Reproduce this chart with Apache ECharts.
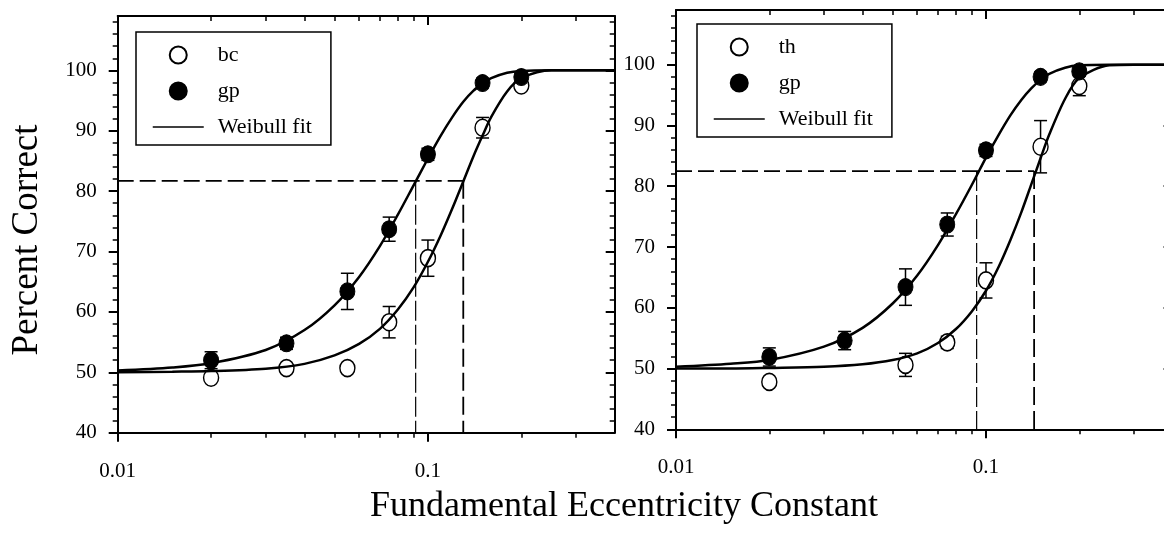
<!DOCTYPE html>
<html>
<head>
<meta charset="utf-8">
<script src="https://cdn.jsdelivr.net/npm/echarts@6/dist/echarts.min.js"></script>
<style>
html, body { margin: 0; background: #fff; }
#chart { width: 1164px; height: 540px; }
</style>
</head>
<body>
<div id="chart"></div>
<script>
// stimulus levels (fundamental eccentricity constant)
var stimX = [0.02, 0.035, 0.055, 0.075, 0.1, 0.15, 0.2];

// left panel: observers bc and gp (percent correct, +/- error)
var bcY    = [49.1, 50.7, 50.7, 58.3, 68.9, 90.5, 97.5];
var bcErr  = [0, 0, 0, 2.6, 3.0, 1.7, 0.8];
var gpLY   = [52.0, 54.8, 63.4, 73.7, 86.1, 97.9, 98.9];
var gpLErr = [1.4, 1.0, 3.0, 2.0, 1.0, 0.8, 0.5];

// right panel: observers th and gp
var thX    = [0.02, 0.055, 0.075, 0.1, 0.15, 0.2];
var thY    = [47.8, 50.6, 54.3, 64.5, 86.5, 96.5];
var thErr  = [0, 1.9, 1.0, 2.9, 4.3, 1.6];
var gpRY   = [51.9, 54.6, 63.4, 73.7, 85.9, 98.0, 98.9];
var gpRErr = [1.5, 1.5, 3.0, 1.9, 1.0, 0.8, 0.6];

// Weibull fit curves
var fitX   = [0.01, 0.015, 0.02, 0.03, 0.04, 0.05, 0.06, 0.07, 0.08, 0.09, 0.1, 0.11, 0.12, 0.13, 0.14, 0.15, 0.16, 0.18, 0.2, 0.25, 0.3, 0.4];
var bcFit  = [50.0, 50.1, 50.2, 50.6, 51.4, 52.8, 54.7, 57.2, 60.4, 64.1, 68.3, 72.7, 77.2, 81.6, 85.7, 89.2, 92.3, 96.5, 98.7, 100, 100, 100];
var gpLFit = [50.3, 50.8, 51.5, 53.7, 57.0, 61.1, 65.8, 70.9, 76.1, 81.0, 85.4, 89.2, 92.3, 94.8, 96.6, 97.8, 98.7, 99.6, 99.9, 100, 100, 100];
var thFit  = [50.0, 50.0, 50.1, 50.3, 50.7, 51.4, 52.5, 54.2, 56.5, 59.4, 62.8, 66.8, 71.2, 75.7, 80.3, 84.6, 88.5, 94.4, 97.8, 99.9, 100, 100];
var gpRFit = [50.3, 50.8, 51.4, 53.6, 56.7, 60.7, 65.3, 70.3, 75.4, 80.2, 84.7, 88.5, 91.7, 94.2, 96.1, 97.5, 98.5, 99.5, 99.9, 100, 100, 100];

// threshold criterion and threshold values (dashed lines)
var leftCrit = 81.7, leftThresh = [0.0913, 0.13];
var rightCrit = 82.5, rightThresh = [0.0933, 0.143];

// axis ticks
var xMajor = [0.01, 0.1];
var xMinor = [0.02, 0.03, 0.04, 0.05, 0.06, 0.07, 0.08, 0.09, 0.2, 0.3];
var yMajor = [40, 50, 60, 70, 80, 90, 100];
var yMinor = [42, 44, 46, 48, 52, 54, 56, 58, 62, 64, 66, 68, 72, 74, 76, 78, 82, 84, 86, 88, 92, 94, 96, 98, 102, 104, 106, 108];

var FONT = '"Liberation Serif", "Times New Roman", serif';
var BLACK = '#000';

var chart = echarts.init(document.getElementById('chart'));

function zip(xs, ys, es) {
	return xs.map(function (x, i) { return es ? [x, ys[i], es[i]] : [x, ys[i]]; });
}

function fmtX(v) {
	return String(+(+v).toPrecision(2));
}

function makeXAxes(g) {
	var base = { type: 'log', logBase: 10, min: 0.01, max: 0.4, gridIndex: g, splitLine: { show: false } };
	var line = { show: true, onZero: false, lineStyle: { color: BLACK, width: 2 } };
	var noLine = { show: false, onZero: false };
	return [
		Object.assign({}, base, {
			position: 'bottom', axisLine: line,
			axisTick: { customValues: xMajor, length: 9, lineStyle: { color: BLACK, width: 2 } },
			axisLabel: { customValues: xMajor, margin: 28, color: BLACK, fontSize: 21, fontFamily: FONT, formatter: fmtX }
		}),
		Object.assign({}, base, {
			position: 'bottom', axisLine: noLine,
			axisTick: { customValues: xMinor, length: 5, lineStyle: { color: BLACK, width: 1.5 } },
			axisLabel: { show: false }
		}),
		Object.assign({}, base, {
			position: 'top', axisLine: line,
			axisTick: { customValues: xMajor, inside: true, length: 9, lineStyle: { color: BLACK, width: 2 } },
			axisLabel: { show: false }
		}),
		Object.assign({}, base, {
			position: 'top', axisLine: noLine,
			axisTick: { customValues: xMinor, inside: true, length: 5, lineStyle: { color: BLACK, width: 1.5 } },
			axisLabel: { show: false }
		})
	];
}

function makeYAxes(g) {
	var base = { type: 'value', min: 40, max: 109, gridIndex: g, splitLine: { show: false } };
	var line = { show: true, onZero: false, lineStyle: { color: BLACK, width: 2 } };
	var noLine = { show: false, onZero: false };
	return [
		Object.assign({}, base, {
			position: 'left', axisLine: line,
			axisTick: { customValues: yMajor, length: 9, lineStyle: { color: BLACK, width: 2 } },
			axisLabel: { customValues: yMajor, margin: 21, color: BLACK, fontSize: 21, fontFamily: FONT }
		}),
		Object.assign({}, base, {
			position: 'left', axisLine: noLine,
			axisTick: { customValues: yMinor, length: 5, lineStyle: { color: BLACK, width: 1.5 } },
			axisLabel: { show: false }
		}),
		Object.assign({}, base, {
			position: 'right', axisLine: line,
			axisTick: { customValues: yMajor, inside: true, length: 9, lineStyle: { color: BLACK, width: 2 } },
			axisLabel: { show: false }
		}),
		Object.assign({}, base, {
			position: 'right', axisLine: noLine,
			axisTick: { customValues: yMinor, inside: true, length: 5, lineStyle: { color: BLACK, width: 1.5 } },
			axisLabel: { show: false }
		})
	];
}

function renderErr(params, api) {
	var x = api.value(0), y = api.value(1), e = api.value(2);
	if (!e) return;
	var top = api.coord([x, y + e]);
	var bot = api.coord([x, y - e]);
	var w = 6.5;
	var st = { stroke: BLACK, lineWidth: 1.5 };
	return {
		type: 'group',
		children: [
			{ type: 'line', shape: { x1: top[0], y1: top[1], x2: bot[0], y2: bot[1] }, style: st },
			{ type: 'line', shape: { x1: top[0] - w, y1: top[1], x2: top[0] + w, y2: top[1] }, style: st },
			{ type: 'line', shape: { x1: bot[0] - w, y1: bot[1], x2: bot[0] + w, y2: bot[1] }, style: st }
		]
	};
}

function panelSeries(g, openName, openX, openY, openErr, openFit, gpY, gpErr, gpFit, crit, thresh) {
	var xi = g * 4, yi = g * 4;
	var dash = function (data, w, pattern) {
		return {
			type: 'line', xAxisIndex: xi, yAxisIndex: yi, data: data, symbol: 'none', silent: true,
			lineStyle: { color: BLACK, width: w, type: pattern }
		};
	};
	var fit = function (ys) {
		return {
			name: 'Weibull fit', type: 'line', xAxisIndex: xi, yAxisIndex: yi, data: zip(fitX, ys),
			symbol: 'none', smooth: 0.3, lineStyle: { color: BLACK, width: 2.5 }, itemStyle: { color: BLACK }
		};
	};
	var err = function (xs, ys, es) {
		return {
			type: 'custom', xAxisIndex: xi, yAxisIndex: yi, data: zip(xs, ys, es),
			encode: { x: 0, y: 1 }, renderItem: renderErr, silent: true
		};
	};
	return [
		dash([[0.01, crit], [thresh[1], crit]], 1.8, [16, 6]),
		dash([[thresh[0], crit], [thresh[0], 40]], 1.2, [20, 4]),
		dash([[thresh[1], crit], [thresh[1], 40]], 1.8, [18, 6]),
		fit(openFit),
		fit(gpFit),
		err(openX, openY, openErr),
		err(stimX, gpY, gpErr),
		{
			name: openName, type: 'scatter', xAxisIndex: xi, yAxisIndex: yi, data: zip(openX, openY),
			symbol: 'circle', symbolSize: [15, 17],
			itemStyle: { color: '#fff', borderColor: BLACK, borderWidth: 1.5, opacity: 1 }
		},
		{
			name: 'gp', type: 'scatter', xAxisIndex: xi, yAxisIndex: yi, data: zip(stimX, gpY),
			symbol: 'circle', symbolSize: [15, 17],
			itemStyle: { color: BLACK, borderColor: BLACK, borderWidth: 1, opacity: 1 }
		}
	];
}

var legendBase = {
	orient: 'vertical', selectedMode: false,
	itemWidth: 51, itemHeight: 17, itemGap: 14,
	padding: [12, 19, 7, 16],
	borderColor: BLACK, borderWidth: 1.5, backgroundColor: '#fff',
	textStyle: { fontFamily: FONT, fontSize: 22, color: BLACK, lineHeight: 22, padding: [0, 0, 0, 9] }
};
var fitLegendItem = { name: 'Weibull fit', itemStyle: { opacity: 0 }, lineStyle: { width: 1.5 } };

var option = {
	animation: false,
	backgroundColor: '#fff',
	grid: [
		{ left: 117.7, top: 16, width: 497, height: 416.7, outerBoundsMode: 'none' },
		{ left: 676, top: 10, width: 496.6, height: 419.3, outerBoundsMode: 'none' }
	],
	xAxis: makeXAxes(0).concat(makeXAxes(1)),
	yAxis: makeYAxes(0).concat(makeYAxes(1)),
	legend: [
		Object.assign({}, legendBase, { left: 136, top: 32, data: ['bc', 'gp', fitLegendItem] }),
		Object.assign({}, legendBase, { left: 697, top: 24, data: ['th', 'gp', fitLegendItem] })
	],
	graphic: [
		{
			type: 'text', x: 27, y: 240, rotation: Math.PI / 2,
			style: { text: 'Percent Correct', fontFamily: FONT, fontSize: 37, fill: BLACK, align: 'center', verticalAlign: 'middle' }
		},
		{
			type: 'text', x: 624, y: 507,
			style: { text: 'Fundamental Eccentricity Constant', fontFamily: FONT, fontSize: 36, fill: BLACK, align: 'center', verticalAlign: 'middle' }
		}
	],
	series: panelSeries(0, 'bc', stimX, bcY, bcErr, bcFit, gpLY, gpLErr, gpLFit, leftCrit, leftThresh)
		.concat(panelSeries(1, 'th', thX, thY, thErr, thFit, gpRY, gpRErr, gpRFit, rightCrit, rightThresh))
};

chart.setOption(option);
</script>
</body>
</html>
